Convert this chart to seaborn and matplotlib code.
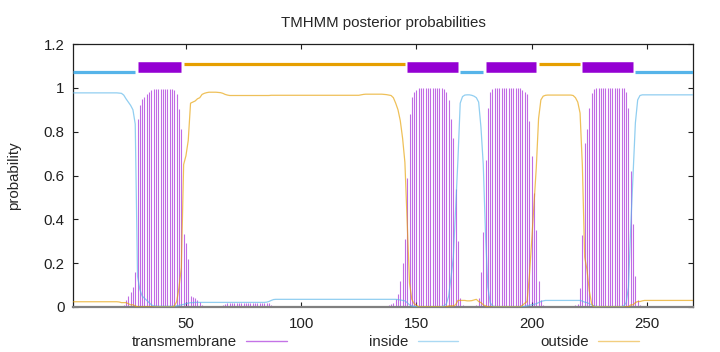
import numpy as np
import pandas as pd
import matplotlib
matplotlib.use("Agg")
import matplotlib.pyplot as plt
from matplotlib.lines import Line2D
import seaborn as sns

# ---------------- data (posterior probabilities per residue, 1..270) ----------------
residues = list(range(1, 271))

tm_prob = [
    0, 0, 0, 0, 0, 0, 0, 0, 0, 0,
    0, 0, 0, 0, 0, 0, 0, 0, 0, 0.001,
    0.002, 0.004, 0.01, 0.03, 0.05, 0.07, 0.09, 0.16, 0.86, 0.92,
    0.95, 0.96, 0.97, 0.98, 0.99, 0.993, 0.993, 0.993, 0.993, 0.993,
    0.993, 0.993, 0.993, 0.993, 0.99, 0.97, 0.905, 0.81, 0.335, 0.29,
    0.22, 0.05, 0.047, 0.04, 0.032, 0.024, 0.01, 0.005, 0.003, 0.003,
    0.003, 0.004, 0.005, 0.005, 0.006, 0.01, 0.015, 0.017, 0.017, 0.017,
    0.017, 0.017, 0.017, 0.017, 0.017, 0.017, 0.017, 0.017, 0.017, 0.017,
    0.017, 0.017, 0.017, 0.017, 0.017, 0.016, 0.008, 0.005, 0.004, 0.004,
    0.004, 0.004, 0.004, 0.004, 0.004, 0.004, 0.004, 0.004, 0.004, 0.004,
    0.004, 0.004, 0.004, 0.004, 0.004, 0.004, 0.004, 0.004, 0.004, 0.004,
    0.004, 0.004, 0.004, 0.004, 0.004, 0.004, 0.004, 0.004, 0.004, 0.004,
    0.004, 0.004, 0.004, 0.004, 0.004, 0.004, 0.004, 0.004, 0.004, 0.004,
    0.004, 0.004, 0.004, 0.004, 0.004, 0.005, 0.006, 0.008, 0.012, 0.02,
    0.035, 0.06, 0.12, 0.2, 0.31, 0.59, 0.88, 0.96, 0.98, 0.99,
    0.998, 0.998, 0.998, 0.998, 0.998, 0.998, 0.998, 0.998, 0.998, 0.998,
    0.998, 0.995, 0.98, 0.945, 0.86, 0.77, 0.54, 0.30, 0.04, 0.01,
    0.005, 0.004, 0.004, 0.005, 0.006, 0.01, 0.04, 0.16, 0.34, 0.67,
    0.91, 0.98, 0.995, 0.998, 0.998, 0.998, 0.998, 0.998, 0.998, 0.998,
    0.998, 0.998, 0.998, 0.998, 0.998, 0.99, 0.98, 0.97, 0.85, 0.69,
    0.52, 0.35, 0.12, 0.03, 0.01, 0.004, 0.003, 0.003, 0.003, 0.003,
    0.003, 0.003, 0.003, 0.003, 0.003, 0.003, 0.005, 0.005, 0.01, 0.015,
    0.085, 0.33, 0.75, 0.81, 0.91, 0.975, 0.995, 0.998, 0.998, 0.998,
    0.998, 0.998, 0.998, 0.998, 0.998, 0.998, 0.998, 0.998, 0.998, 0.998,
    0.98, 0.91, 0.62, 0.38, 0.14, 0.03, 0.01, 0.004, 0.003, 0.002,
    0.002, 0.002, 0.002, 0.002, 0.002, 0.002, 0.002, 0.002, 0.002, 0.002,
    0.002, 0.002, 0.002, 0.002, 0.002, 0.002, 0.002, 0.002, 0.002, 0.002,
]

inside_prob = [
    0.977, 0.977, 0.977, 0.977, 0.977, 0.977, 0.977, 0.977, 0.977, 0.977,
    0.977, 0.977, 0.977, 0.977, 0.977, 0.977, 0.977, 0.977, 0.977, 0.977,
    0.976, 0.975, 0.967, 0.95, 0.935, 0.92, 0.90, 0.835, 0.14, 0.08,
    0.05, 0.04, 0.03, 0.02, 0.01, 0.005, 0.004, 0.003, 0.003, 0.003,
    0.003, 0.003, 0.003, 0.003, 0.004, 0.005, 0.007, 0.01, 0.012, 0.015,
    0.018, 0.02, 0.02, 0.021, 0.021, 0.021, 0.021, 0.021, 0.021, 0.021,
    0.021, 0.021, 0.021, 0.021, 0.021, 0.021, 0.021, 0.021, 0.021, 0.021,
    0.021, 0.021, 0.021, 0.021, 0.021, 0.021, 0.021, 0.021, 0.021, 0.021,
    0.021, 0.021, 0.021, 0.021, 0.022, 0.025, 0.03, 0.034, 0.035, 0.035,
    0.035, 0.035, 0.035, 0.035, 0.035, 0.035, 0.035, 0.035, 0.035, 0.035,
    0.035, 0.035, 0.035, 0.035, 0.035, 0.035, 0.035, 0.035, 0.035, 0.035,
    0.035, 0.035, 0.035, 0.035, 0.035, 0.035, 0.035, 0.035, 0.035, 0.035,
    0.035, 0.035, 0.035, 0.035, 0.035, 0.035, 0.035, 0.035, 0.035, 0.035,
    0.035, 0.035, 0.035, 0.035, 0.035, 0.035, 0.035, 0.035, 0.035, 0.035,
    0.035, 0.034, 0.032, 0.03, 0.028, 0.02, 0.01, 0.005, 0.003, 0.002,
    0.001, 0.001, 0.001, 0.001, 0.001, 0.001, 0.001, 0.001, 0.001, 0.001,
    0.002, 0.005, 0.015, 0.05, 0.135, 0.225, 0.45, 0.67, 0.93, 0.96,
    0.967, 0.968, 0.968, 0.966, 0.962, 0.955, 0.935, 0.82, 0.65, 0.325,
    0.09, 0.02, 0.005, 0.002, 0.001, 0.001, 0.001, 0.001, 0.001, 0.001,
    0.001, 0.001, 0.001, 0.001, 0.001, 0.002, 0.003, 0.005, 0.008, 0.01,
    0.012, 0.015, 0.02, 0.025, 0.028, 0.03, 0.03, 0.03, 0.03, 0.03,
    0.03, 0.03, 0.03, 0.03, 0.03, 0.03, 0.03, 0.03, 0.03, 0.03,
    0.03, 0.027, 0.022, 0.02, 0.015, 0.01, 0.005, 0.002, 0.001, 0.001,
    0.001, 0.001, 0.001, 0.001, 0.001, 0.001, 0.001, 0.001, 0.002, 0.005,
    0.02, 0.09, 0.37, 0.61, 0.84, 0.945, 0.965, 0.968, 0.968, 0.968,
    0.968, 0.968, 0.968, 0.968, 0.968, 0.968, 0.968, 0.968, 0.968, 0.968,
    0.968, 0.968, 0.968, 0.968, 0.968, 0.968, 0.968, 0.968, 0.968, 0.968,
]

outside_prob = [
    0.024, 0.024, 0.024, 0.024, 0.024, 0.024, 0.024, 0.024, 0.024, 0.024,
    0.024, 0.024, 0.024, 0.024, 0.024, 0.024, 0.024, 0.024, 0.024, 0.024,
    0.023, 0.02, 0.02, 0.02, 0.015, 0.01, 0.01, 0.005, 0.0, 0.0,
    0.0, 0.0, 0.0, 0.0, 0.0, 0.0, 0.0, 0.0, 0.0, 0.0,
    0.0, 0.0, 0.0, 0.0, 0.005, 0.025, 0.09, 0.18, 0.65, 0.69,
    0.76, 0.93, 0.935, 0.94, 0.95, 0.955, 0.97, 0.975, 0.978, 0.98,
    0.98, 0.98, 0.98, 0.979, 0.978, 0.975, 0.97, 0.967, 0.965, 0.965,
    0.965, 0.965, 0.965, 0.965, 0.965, 0.965, 0.965, 0.965, 0.965, 0.965,
    0.965, 0.965, 0.965, 0.965, 0.965, 0.965, 0.966, 0.966, 0.966, 0.966,
    0.966, 0.966, 0.966, 0.966, 0.966, 0.966, 0.966, 0.966, 0.966, 0.966,
    0.966, 0.966, 0.966, 0.966, 0.966, 0.966, 0.966, 0.966, 0.966, 0.966,
    0.966, 0.966, 0.966, 0.966, 0.966, 0.966, 0.966, 0.966, 0.966, 0.966,
    0.966, 0.966, 0.966, 0.966, 0.966, 0.968, 0.97, 0.971, 0.971, 0.971,
    0.971, 0.971, 0.971, 0.971, 0.971, 0.97, 0.969, 0.967, 0.965, 0.955,
    0.93, 0.9, 0.85, 0.77, 0.66, 0.39, 0.11, 0.035, 0.015, 0.008,
    0.001, 0.001, 0.001, 0.001, 0.001, 0.001, 0.001, 0.001, 0.001, 0.001,
    0.0, 0.0, 0.0, 0.005, 0.005, 0.005, 0.01, 0.03, 0.03, 0.03,
    0.03, 0.028, 0.028, 0.029, 0.032, 0.035, 0.025, 0.02, 0.01, 0.005,
    0.0, 0.0, 0.0, 0.0, 0.0, 0.0, 0.0, 0.0, 0.0, 0.0,
    0.0, 0.0, 0.0, 0.0, 0.0, 0.008, 0.017, 0.025, 0.14, 0.30,
    0.47, 0.635, 0.86, 0.945, 0.962, 0.966, 0.967, 0.967, 0.967, 0.967,
    0.967, 0.967, 0.967, 0.967, 0.967, 0.967, 0.967, 0.965, 0.955, 0.935,
    0.885, 0.645, 0.228, 0.17, 0.075, 0.015, 0.0, 0.0, 0.0, 0.0,
    0.0, 0.0, 0.0, 0.0, 0.0, 0.0, 0.0, 0.0, 0.0, 0.0,
    0.0, 0.0, 0.01, 0.01, 0.02, 0.025, 0.025, 0.028, 0.03, 0.03,
    0.03, 0.03, 0.03, 0.03, 0.03, 0.03, 0.03, 0.03, 0.03, 0.03,
    0.03, 0.03, 0.03, 0.03, 0.03, 0.03, 0.03, 0.03, 0.03, 0.03,
]

# predicted topology segments (top bar)
seg_start = [1, 29, 49, 146, 169, 180, 203, 222, 245]
seg_end = [28, 48, 145, 168, 179, 202, 221, 244, 270]
seg_type = ["inside", "TMhelix", "outside", "TMhelix", "inside",
            "TMhelix", "outside", "TMhelix", "inside"]

x_ticks = [50, 100, 150, 200, 250]
y_ticks = [0, 0.2, 0.4, 0.6, 0.8, 1.0, 1.2]
legend_labels = ["transmembrane", "inside", "outside"]
title_text = "TMHMM posterior probabilities"
ylabel_text = "probability"

# ---------------- style ----------------
sns.set_theme(style="white")
plt.rcParams["font.family"] = ["Liberation Sans", "DejaVu Sans"]
FS = 10.8

C_TM = "#9400d3"
C_IN = "#56b4e9"
C_OUT = "#e69f00"

df = pd.DataFrame({"residue": residues, "tm": tm_prob,
                   "inside": inside_prob, "outside": outside_prob})

fig = plt.figure(figsize=(7.2, 3.52), dpi=100)
ax = fig.add_axes([73 / 720, 1 - 307 / 352, 620 / 720, 263 / 352])

# impulses for transmembrane probability
ax.vlines(df["residue"], 0, df["tm"], color=C_TM, lw=0.8, alpha=0.58, zorder=2)

sns.lineplot(data=df, x="residue", y="inside", ax=ax, color=C_IN, lw=0.9,
             alpha=0.65, errorbar=None, legend=False, zorder=3)
sns.lineplot(data=df, x="residue", y="outside", ax=ax, color=C_OUT, lw=0.9,
             alpha=0.65, errorbar=None, legend=False, zorder=3)

# topology segments
seg_style = {
    "inside": dict(color=C_IN, y=1.072, lw=2.3),
    "outside": dict(color=C_OUT, y=1.111, lw=2.3),
    "TMhelix": dict(color=C_TM, y=1.096, lw=7.6),
}
for s, e, t in zip(seg_start, seg_end, seg_type):
    st = seg_style[t]
    ax.hlines(st["y"], s, e, color=st["color"], lw=st["lw"], capstyle="butt", zorder=4)

ax.set_xlim(1, 270)
ax.set_ylim(0, 1.2)
ax.set_xticks(x_ticks)
ax.set_yticks(y_ticks)
ax.set_xticklabels([str(v) for v in x_ticks], fontsize=FS)
ax.set_yticklabels([f"{v:g}" for v in y_ticks], fontsize=FS)
ax.set_xlabel("")
ax.set_ylabel("")
ax.tick_params(direction="in", length=3.5, width=0.8, top=True, right=True,
               bottom=True, left=True, colors="#202020", pad=6)
ax.tick_params(axis="x", pad=7)
for sp in ax.spines.values():
    sp.set_visible(True)
    sp.set_color("#202020")
    sp.set_linewidth(0.9)
ax.spines["bottom"].set_color("#808080")
ax.spines["bottom"].set_linewidth(1.6)

fig.text(383 / 720, 1 - 22.5 / 352, title_text, ha="center", va="center", fontsize=FS)
fig.text(14 / 720, 1 - 176 / 352, ylabel_text, ha="center", va="center",
         rotation=90, fontsize=FS)

handles = [Line2D([0], [0], color=C_TM, lw=1.0, alpha=0.55),
           Line2D([0], [0], color=C_IN, lw=1.0, alpha=0.5),
           Line2D([0], [0], color=C_OUT, lw=1.0, alpha=0.5)]
ax.legend(handles, legend_labels, loc="center", ncol=3, markerfirst=False,
          frameon=False, fontsize=FS, handlelength=2.7, handletextpad=0.6,
          columnspacing=5.5, bbox_to_anchor=(385.5 / 720, 1 - 342 / 352),
          bbox_transform=fig.transFigure, borderpad=0, borderaxespad=0)

fig.savefig("out.png", dpi=100)
